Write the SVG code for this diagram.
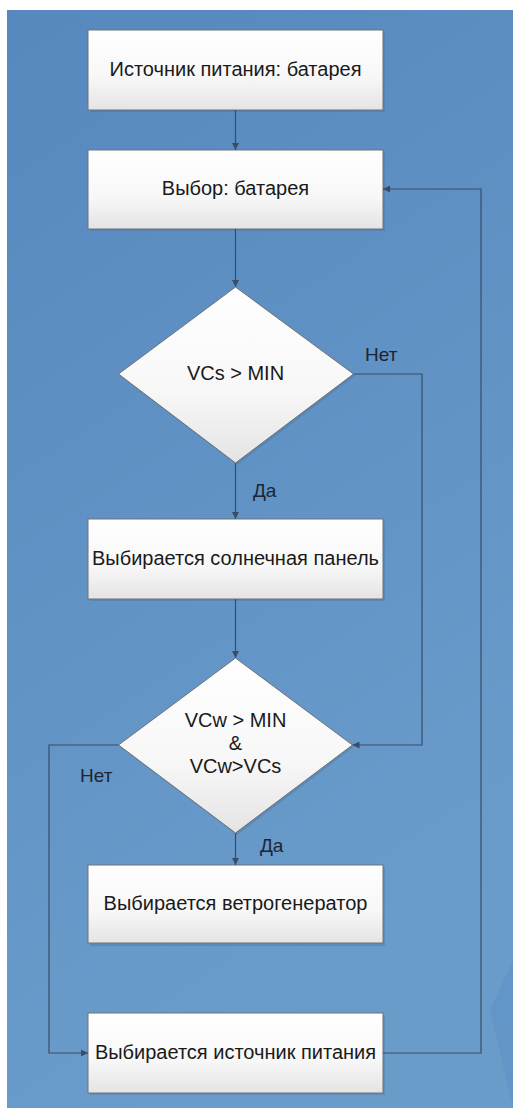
<svg xmlns="http://www.w3.org/2000/svg" width="513" height="1108" viewBox="0 0 513 1108">
<defs>
<linearGradient id="bg" x1="0" y1="0" x2="0.3" y2="1">
<stop offset="0" stop-color="#5788be"/>
<stop offset="1" stop-color="#6a9ccb"/>
</linearGradient>
<linearGradient id="box" x1="0" y1="0" x2="0" y2="1">
<stop offset="0" stop-color="#ffffff"/>
<stop offset="0.6" stop-color="#f7f7f7"/>
<stop offset="1" stop-color="#e4e4e4"/>
</linearGradient>
<marker id="arr" viewBox="0 0 10 10" refX="10" refY="5" markerWidth="7" markerHeight="7" markerUnits="userSpaceOnUse" orient="auto">
<path d="M0,0 L10,5 L0,10 z" fill="#3a4d64"/>
</marker>
</defs>
<style>
.node rect, .node polygon { fill: url(#box); stroke: #6e7278; stroke-width: 1; }
.node .shadow { fill: #3d5f86; stroke: none; opacity: 0.25; }
.t { font-family: "Liberation Sans", Arial, sans-serif; font-size: 20px; fill: #1a1a1a; text-anchor: middle; }
.lbl { font-family: "Liberation Sans", Arial, sans-serif; font-size: 19px; fill: #1c2533; }
.conn path { fill: none; stroke: #3a4d64; stroke-width: 1.2; }
</style>
<rect x="0" y="0" width="513" height="1108" fill="#ffffff"/>
<rect x="7" y="10" width="506" height="1098" fill="url(#bg)"/>
<polygon points="430,915 513,1040 513,1108 330,1108" fill="#6a9bca" opacity="0.5"/>
<polygon points="490,1010 513,960 513,1108" fill="#5b8ec4" opacity="0.4"/>
<g id="n1" class="node">
<rect class="shadow" x="90" y="32" width="295" height="80"/>
<rect x="88" y="30" width="295" height="80"/>
<text class="t" x="235.5" y="76">Источник питания: батарея</text>
</g>
<g id="n2" class="node">
<rect class="shadow" x="90" y="152" width="295" height="79"/>
<rect x="88" y="150" width="295" height="79"/>
<text class="t" x="235.5" y="195">Выбор: батарея</text>
</g>
<g id="d1" class="node">
<polygon class="shadow" points="237,289 355,376 237,465 120,376"/>
<polygon points="235.5,287 353.5,374 235.5,463 118.5,374"/>
<text class="t" x="235.5" y="380">VCs &gt; MIN</text>
</g>
<g id="n3" class="node">
<rect class="shadow" x="90" y="521" width="295" height="80"/>
<rect x="88" y="519" width="295" height="80"/>
<text class="t" x="235.5" y="565">Выбирается солнечная панель</text>
</g>
<g id="d2" class="node">
<polygon class="shadow" points="237,660 354,747 237,835 120,747"/>
<polygon points="235.5,658 352.5,745 235.5,833 118.5,745"/>
<text class="t" x="235.5" y="727">VCw &gt; MIN</text>
<text class="t" x="235.5" y="750">&amp;</text>
<text class="t" x="235.5" y="773">VCw&gt;VCs</text>
</g>
<g id="n4" class="node">
<rect class="shadow" x="90" y="867" width="295" height="79"/>
<rect x="88" y="865" width="295" height="78"/>
<text class="t" x="235.5" y="910">Выбирается ветрогенератор</text>
</g>
<g id="n5" class="node">
<rect class="shadow" x="90" y="1015" width="295" height="80"/>
<rect x="88" y="1013" width="295" height="80"/>
<text class="t" x="235.5" y="1059">Выбирается источник питания</text>
</g>
<g id="connectors" class="conn">
<path d="M235.5,110 V150" marker-end="url(#arr)"/>
<path d="M235.5,229 V287" marker-end="url(#arr)"/>
<path d="M235.5,463 V519" marker-end="url(#arr)"/>
<path d="M353.5,374 H422 V745 H352.5" marker-end="url(#arr)"/>
<path d="M235.5,599 V658" marker-end="url(#arr)"/>
<path d="M235.5,833 V865" marker-end="url(#arr)"/>
<path d="M118.5,745 H49 V1053 H88" marker-end="url(#arr)"/>
<path d="M383,1053 H481 V189 H383" marker-end="url(#arr)"/>
</g>
<g id="labels">
<text class="lbl" x="365" y="361">Нет</text>
<text class="lbl" x="253" y="497">Да</text>
<text class="lbl" x="80" y="782">Нет</text>
<text class="lbl" x="260" y="852">Да</text>
</g>
</svg>
